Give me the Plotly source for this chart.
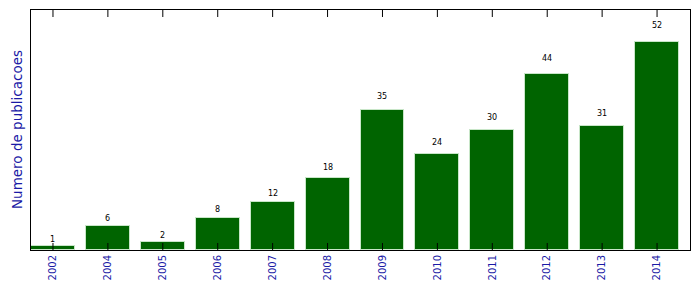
import plotly.graph_objects as go

years = ["2002", "2004", "2005", "2006", "2007", "2008", "2009", "2010", "2011", "2012", "2013", "2014"]
counts = [1, 6, 2, 8, 12, 18, 35, 24, 30, 44, 31, 52]

xpos = list(range(len(years)))
W, H = 699, 292
L, R, T, B = 31, 9, 10, 42
YMAX = 60

fig = go.Figure()
fig.add_trace(go.Bar(
    x=xpos, y=counts, width=0.8,
    marker=dict(color="#006400", line=dict(color="#c8e6c8", width=1)),
    hoverinfo="skip",
))

# inside tick marks at bottom and top (matplotlib style), clipped to plot area
fig.add_trace(go.Scatter(
    x=xpos + xpos, y=[0] * len(xpos) + [YMAX] * len(xpos),
    mode="markers", cliponaxis=True, hoverinfo="skip",
    marker=dict(symbol="line-ns", size=10, line=dict(color="black", width=1)),
))

for xi, v in zip(xpos, counts):
    fig.add_annotation(x=xi, y=v * 1.05, text=str(v), showarrow=False,
                       xref="x", yref="y", yanchor="bottom",
                       font=dict(family="DejaVu Sans", size=8, color="black"))

fig.add_annotation(x=(17 - L) / (W - L - R), y=0.5, xref="paper", yref="paper",
                   xanchor="center", yanchor="middle",
                   text="Numero de publicacoes", textangle=-90, showarrow=False,
                   font=dict(family="DejaVu Sans", size=13.5, color="#1a1aa6"))

fig.update_layout(
    width=W, height=H,
    margin=dict(l=L, r=R, t=T, b=B),
    paper_bgcolor="white", plot_bgcolor="white",
    showlegend=False,
    bargap=0,
    xaxis=dict(range=[-0.4, 11.6], tickmode="array", tickvals=xpos, ticktext=years,
               tickangle=-90, ticks="", 
               showline=True, linecolor="black", linewidth=1, mirror=True,
               showgrid=False, zeroline=False,
               tickfont=dict(family="DejaVu Sans", size=10, color="#1a1aa6")),
    yaxis=dict(range=[0, YMAX], showticklabels=False, ticks="",
               showline=True, linecolor="black", linewidth=1, mirror=True,
               showgrid=False, zeroline=False),
)

fig.write_html("out.html")
